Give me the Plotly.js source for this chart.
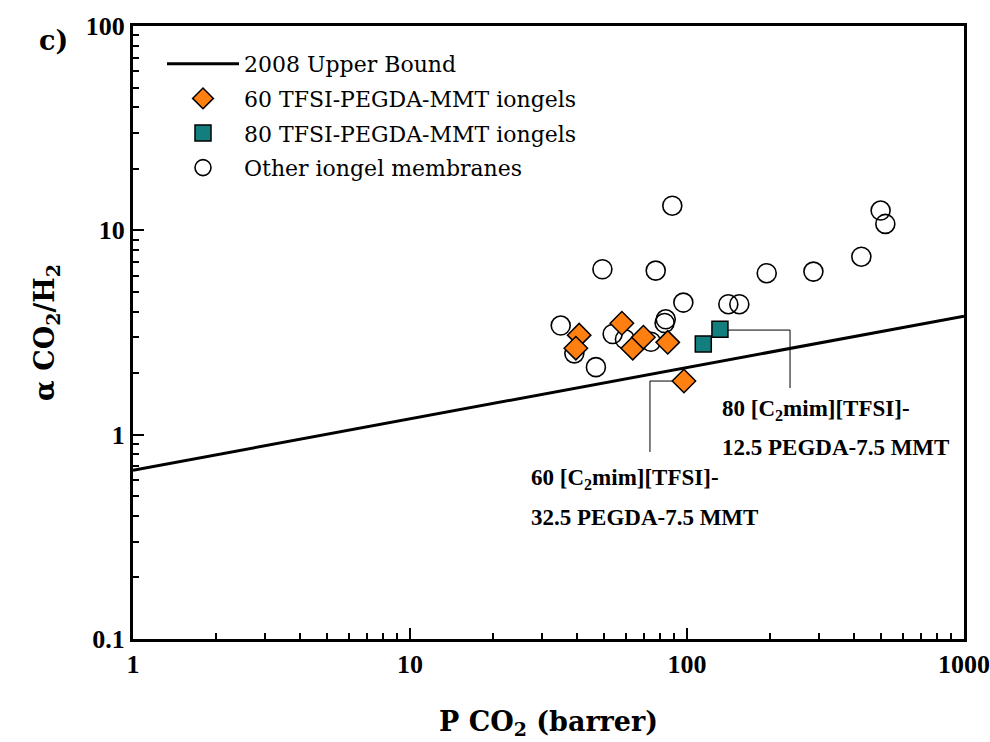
<!DOCTYPE html>
<html>
<head>
<meta charset="utf-8">
<script src="https://cdn.plot.ly/plotly-3.0.1.min.js"></script>
<style>html,body{margin:0;padding:0;background:#fff;}#chart{width:990px;height:742px;}</style>
</head>
<body>
<div id="chart"></div>
<script>
// Upper bound line (2008)
const xUpper = [1, 1000];
const yUpper = [0.67, 3.8];

// 60 TFSI-PEGDA-MMT iongels
const x60 = [40.8, 39.7, 58.2, 63.7, 69.6, 85.2, 97.5];
const y60 = [3.07, 2.65, 3.51, 2.65, 3.00, 2.83, 1.83];

// 80 TFSI-PEGDA-MMT iongels
const x80 = [114.5, 131.5];
const y80 = [2.78, 3.28];

// Other iongel membranes
const xOther = [88.5, 49.5, 77.1, 194, 97, 141, 154.5, 35, 39.2, 46.9, 53.9, 59.7, 74.1, 83.8, 83.0, 286, 426, 500, 520];
const yOther = [13.2, 6.45, 6.35, 6.17, 4.43, 4.35, 4.35, 3.42, 2.50, 2.14, 3.11, 2.93, 2.85, 3.67, 3.52, 6.28, 7.43, 12.5, 10.75];

// Tick labels
const xTickVals = [1, 10, 100, 1000];
const xTickText = ['1', '10', '100', '1000'];
const yTickVals = [0.1, 1, 10, 100];
const yTickText = ['0.1', '1', '10', '100'];

// leader lines for callouts (from the labelled points)
const lead60x = [97.5, 73.5, 73.5];
const lead60y = [1.83, 1.83, 0.823];
const lead80x = [131.5, 235.5, 235.5];
const lead80y = [3.25, 3.25, 1.69];

function minorVals(lo, hi) {
  const v = [];
  for (let d = lo; d < hi; d *= 10) for (let k = 2; k <= 9; k++) v.push(d * k);
  return v;
}

const serif = 'Liberation Serif';
const black = '#000';

const traces = [
  {x: xUpper, y: yUpper, mode: 'lines', name: '2008 Upper Bound', legendgroup: 'a',
   line: {color: black, width: 3}, legendrank: 1},
  {x: lead60x, y: lead60y, mode: 'lines', showlegend: false, hoverinfo: 'skip',
   line: {color: black, width: 1}},
  {x: lead80x, y: lead80y, mode: 'lines', showlegend: false, hoverinfo: 'skip',
   line: {color: black, width: 1}},
  {x: xOther, y: yOther, mode: 'markers', name: 'Other iongel membranes', legendrank: 4, legendgroup: 'd',
   marker: {symbol: 'circle-open', size: 19, color: black, line: {width: 1.6, color: black}}},
  {x: x80, y: y80, mode: 'markers', name: '80 TFSI-PEGDA-MMT iongels', legendrank: 3, legendgroup: 'c',
   marker: {symbol: 'square', size: 16, color: '#127e7e', line: {width: 1.5, color: black}}},
  {x: x60, y: y60, mode: 'markers', name: '60 TFSI-PEGDA-MMT iongels', legendrank: 2, legendgroup: 'b',
   marker: {symbol: 'diamond', size: 18, color: '#ff8010', line: {width: 1.5, color: black}}}
];

const L = 133, R = 964, T = 26, B = 639;
const px = v => (v - L) / (R - L);
const py = v => (B - v) / (B - T);

const annFont = {family: serif, size: 23, color: black, weight: 'bold'};

const layout = {
  width: 990, height: 742,
  margin: {l: L, r: 990 - R, t: T, b: 742 - B},
  paper_bgcolor: '#fff', plot_bgcolor: '#fff',
  font: {family: serif, size: 22, color: black},
  showlegend: true,
  legend: {
    x: px(162), y: py(43), xanchor: 'left', yanchor: 'top',
    bgcolor: 'rgba(0,0,0,0)', borderwidth: 0,
    font: {family: 'DejaVu Serif', size: 22, color: black},
    itemwidth: 72, tracegroupgap: 3, traceorder: 'grouped'
  },
  xaxis: {
    type: 'log', range: [0, 3], showgrid: false, zeroline: false,
    showline: true, linecolor: black, linewidth: 3, mirror: true,
    ticks: 'inside', ticklen: 11, tickwidth: 2, tickcolor: black,
    tickvals: xTickVals, ticktext: xTickText,
    tickfont: {family: serif, size: 26, color: black, weight: 'bold'},
    minor: {tickvals: minorVals(1, 1000), ticks: 'inside', ticklen: 6, tickwidth: 2, tickcolor: black, showgrid: false},
    title: {text: 'P CO<sub>2</sub> (barrer)', font: {family: 'DejaVu Serif', size: 27, color: black, weight: 'bold'}, standoff: 34}
  },
  yaxis: {
    type: 'log', range: [-1, 2], showgrid: false, zeroline: false,
    showline: true, linecolor: black, linewidth: 3, mirror: true,
    ticks: 'inside', ticklen: 11, tickwidth: 2, tickcolor: black,
    tickvals: yTickVals, ticktext: yTickText,
    tickfont: {family: serif, size: 26, color: black, weight: 'bold'},
    minor: {tickvals: minorVals(0.1, 100), ticks: 'inside', ticklen: 6, tickwidth: 2, tickcolor: black, showgrid: false},
    title: {text: 'α CO<sub>2</sub>/H<sub>2</sub>', font: {family: 'DejaVu Serif', size: 27, color: black, weight: 'bold'}, standoff: 24}
  },
  annotations: [
    {xref: 'paper', yref: 'paper', x: px(37), y: py(40), xanchor: 'left', yanchor: 'middle',
     text: 'c)', showarrow: false, font: {family: 'DejaVu Serif', size: 27, color: black, weight: 'bold'}},
    {xref: 'paper', yref: 'paper', x: px(529), y: py(479), xanchor: 'left', yanchor: 'middle',
     text: '60 [C<sub>2</sub>mim][TFSI]-', showarrow: false, font: annFont},
    {xref: 'paper', yref: 'paper', x: px(529), y: py(517), xanchor: 'left', yanchor: 'middle',
     text: '32.5 PEGDA-7.5 MMT', showarrow: false, font: annFont},
    {xref: 'paper', yref: 'paper', x: px(720), y: py(410), xanchor: 'left', yanchor: 'middle',
     text: '80 [C<sub>2</sub>mim][TFSI]-', showarrow: false, font: annFont},
    {xref: 'paper', yref: 'paper', x: px(720), y: py(448), xanchor: 'left', yanchor: 'middle',
     text: '12.5 PEGDA-7.5 MMT', showarrow: false, font: annFont}
  ]
};

Plotly.newPlot('chart', traces, layout, {staticPlot: true, displayModeBar: false});
</script>
</body>
</html>
